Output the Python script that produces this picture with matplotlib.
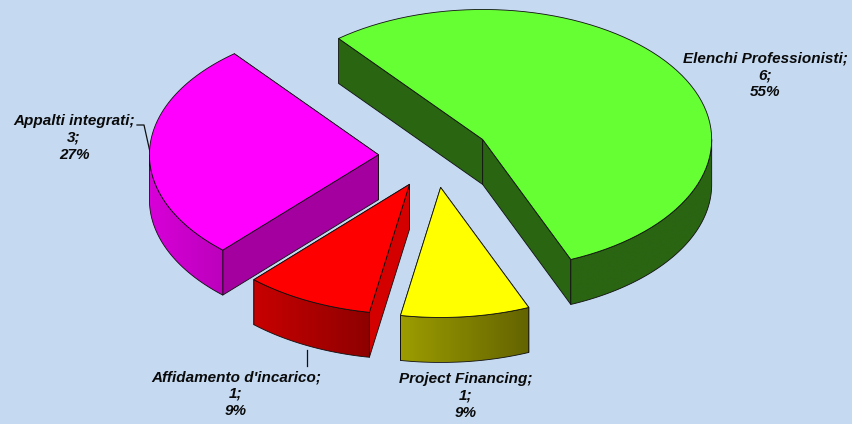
#!/usr/bin/env python3
"""Exploded 3D pie, drawn by hand since matplotlib has no such pie."""

import numpy as np
import matplotlib
matplotlib.use("Agg")
import matplotlib.pyplot as plt
from matplotlib.colors import to_rgb
from matplotlib.patches import Polygon

# Data
names = ["Elenchi Professionisti", "Project Financing", "Affidamento d'incarico", "Appalti integrati"]
values = [6, 1, 1, 3]
percents = ["55%", "9%", "9%", "27%"]

# Colours: top, cut wall, outer wall left, outer wall right
top_colors = ["#66ff33", "#ffff00", "#ff0000", "#ff00ff"]
cut_colors = ["#2a6512", "#666600", "#d40000", "#a3009f"]
wall_left = ["#2a6512", "#9c9c00", "#c80000", "#d800d8"]
wall_right = ["#2a6512", "#636300", "#8e0000", "#bc00bc"]

# Layout, in pixels of the 852x424 picture
center_x, center_y = 434.5, 155.8
rx, ry = 229, 130
depth = 45
explode = 0.245
start_angle = -39
label_x = [765, 465.5, 236, 74]
label_y = [75, 396, 394, 138]

plt.rcParams["font.family"] = ["Liberation Sans", "DejaVu Sans"]

fig = plt.figure(figsize=(8.52, 4.24), dpi=100, facecolor="#c5d9f1")
ax = fig.add_axes([0, 0, 1, 1])
ax.set_axis_off()


def rim(cx, cy, a0, a1, n=80):
    # angles run clockwise from 12 o'clock
    t = np.radians(np.linspace(a0, a1, n))
    return np.column_stack((cx + rx * np.sin(t), cy - ry * np.cos(t)))


def draw_slice(a0, a1, i, z):
    mid = np.radians((a0 + a1) / 2)
    cx = center_x + explode * rx * np.sin(mid)
    cy = center_y - explode * ry * np.cos(mid)
    drop = np.array([0, depth])
    edge = dict(edgecolor="#101010", linewidth=0.6, joinstyle="round")
    apex = np.array([cx, cy])

    # straight cut walls, the one nearer the viewer painted last
    ends = [rim(cx, cy, a, a, 1)[0] for a in (a0, a1)]
    ends.sort(key=lambda p: p[1])
    for p in ends:
        wall = np.array([apex, p, p + drop, apex + drop])
        ax.add_patch(Polygon(wall, facecolor=cut_colors[i], zorder=z, **edge))

    # curved outer wall, only the front half of the ellipse shows
    f0, f1 = max(a0, 90), min(a1, 270)
    if f1 > f0:
        arc = rim(cx, cy, f0, f1)
        wall = np.vstack((arc, (arc + drop)[::-1]))
        shape = Polygon(wall, facecolor="none", zorder=z + 0.2, **edge)
        ax.add_patch(shape)
        ramp = np.linspace(to_rgb(wall_left[i]), to_rgb(wall_right[i]), 256)[None, :, :]
        img = ax.imshow(ramp, extent=(wall[:, 0].min(), wall[:, 0].max(), wall[:, 1].max(), wall[:, 1].min()),
                        aspect="auto", zorder=z + 0.1, interpolation="bilinear")
        img.set_clip_path(shape)

    # top face
    top = np.vstack((apex, rim(cx, cy, a0, a1)))
    ax.add_patch(Polygon(top, facecolor=top_colors[i], zorder=z + 0.3, **edge))


angles = start_angle + np.concatenate(([0], np.cumsum(values))) / sum(values) * 360
for i in range(len(values)):
    draw_slice(angles[i], angles[i + 1], i, 2 + i)

# Labels
for i in range(len(values)):
    ax.text(label_x[i], label_y[i], f"{names[i]};\n{values[i]};\n{percents[i]}", ha="center", va="center",
            fontsize=11, fontweight="bold", fontstyle="italic", color="#0a0a0a", linespacing=1.25, zorder=10)

# Leader lines
ax.plot([137, 144, 150], [125, 125, 152], color="#101010", lw=0.9, zorder=1)
ax.plot([307, 307], [350, 366], color="#101010", lw=0.9, zorder=1)

ax.set_xlim(0, 852)
ax.set_ylim(424, 0)
fig.savefig("out.png", dpi=100, facecolor=fig.get_facecolor())
